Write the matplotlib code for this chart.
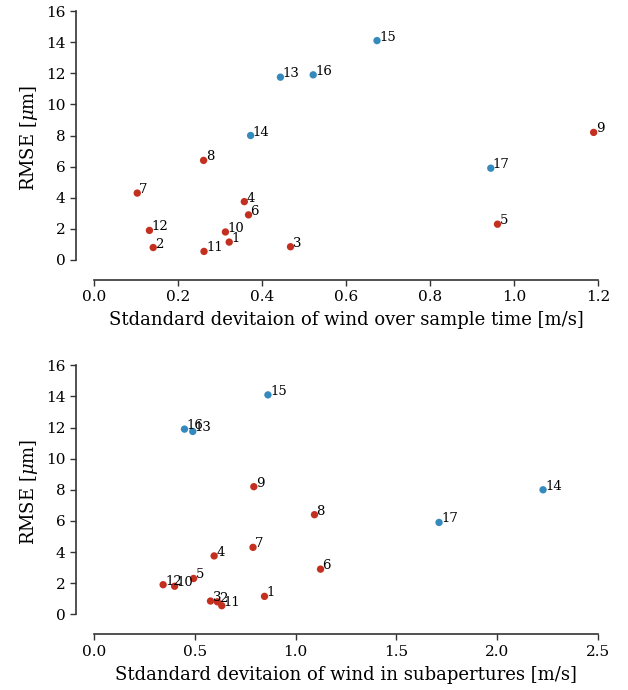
import numpy as np
import matplotlib
matplotlib.use("Agg")
import matplotlib.pyplot as plt

plt.rcParams['font.family'] = 'DejaVu Serif'
plt.rcParams['mathtext.fontset'] = 'dejavuserif'

labels = [str(i) for i in range(1, 18)]
rmse = [1.15, 0.8, 0.85, 3.75, 2.3, 2.9, 4.3, 6.4, 8.2, 1.8, 0.55, 1.9,
        11.75, 8.0, 14.1, 11.9, 5.9]
std_time = [0.322, 0.141, 0.468, 0.358, 0.961, 0.368, 0.103, 0.261, 1.190,
            0.313, 0.262, 0.132, 0.444, 0.373, 0.674, 0.522, 0.945]
std_sub = [0.846, 0.612, 0.578, 0.596, 0.494, 1.124, 0.789, 1.094, 0.793,
           0.400, 0.634, 0.343, 0.490, 2.228, 0.863, 0.449, 1.712]
n_red = 12  # samples 1-12 red, 13-17 blue

red = '#c4301f'
blue = '#348abd'


def scatter_panel(ax, xs, xlabel, xticks):
    colors = [red if i < n_red else blue for i in range(len(xs))]
    ax.scatter(xs, rmse, c=colors, s=28, zorder=3, edgecolors='none')
    for x, y, lab in zip(xs, rmse, labels):
        ax.annotate(lab, (x, y), xytext=(1.5, 0), textcoords='offset points',
                    fontsize=9.5, ha='left', va='baseline')
    ax.set_ylim(-0.3, 16)
    ax.set_yticks(np.arange(0, 17, 2))
    ax.set_xticks(xticks)
    ax.set_xlim(xticks[0], xticks[-1])
    ax.set_xlabel(xlabel, fontsize=13, labelpad=5)
    ax.set_ylabel(r'RMSE [$\mu$m]', fontsize=13)
    ax.spines['top'].set_visible(False)
    ax.spines['right'].set_visible(False)
    ax.spines['left'].set_position(('outward', 13))
    ax.spines['bottom'].set_position(('outward', 11))
    ax.spines['left'].set_bounds(0, 16)
    for s in ('left', 'bottom'):
        ax.spines[s].set_color('#333333')
        ax.spines[s].set_linewidth(1.2)
    ax.tick_params(direction='out', length=4, width=1, colors='#333333',
                   labelcolor='black', labelsize=11)
    ax.set_facecolor('white')


fig, (ax1, ax2) = plt.subplots(2, 1, figsize=(6.28, 6.9), dpi=100)
scatter_panel(ax1, std_time, 'Stdandard devitaion of wind over sample time [m/s]',
              [0.0, 0.2, 0.4, 0.6, 0.8, 1.0, 1.2])
scatter_panel(ax2, std_sub, 'Stdandard devitaion of wind in subapertures [m/s]',
              [0.0, 0.5, 1.0, 1.5, 2.0, 2.5])
ax1.set_xticklabels(['0.0', '0.2', '0.4', '0.6', '0.8', '1.0', '1.2'])
ax2.set_xticklabels(['0.0', '0.5', '1.0', '1.5', '2.0', '2.5'])

fig.subplots_adjust(left=0.1497, right=0.952, top=0.984, bottom=0.103, hspace=0.397)
fig.savefig('out.png', dpi=100)
